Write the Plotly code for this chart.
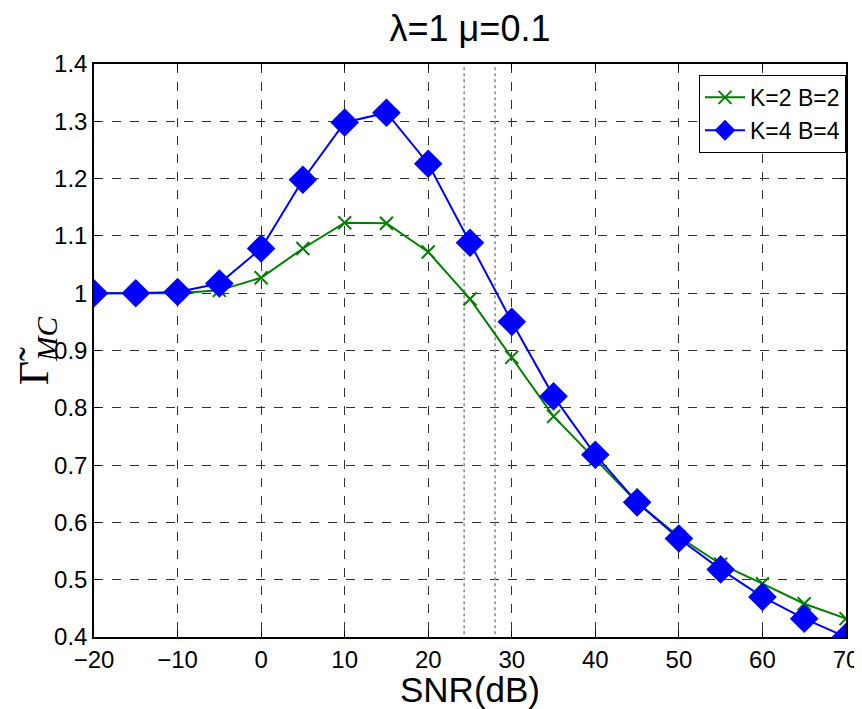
import plotly.graph_objects as go

snr_db = [-20, -15, -10, -5, 0, 5, 10, 15, 20, 25, 30, 35, 40, 45, 50, 55, 60, 65, 70]
gamma_k2_b2 = [1.0, 1.0, 1.0, 1.005, 1.027, 1.078, 1.123, 1.122, 1.072, 0.99, 0.888, 0.785,
               0.71, 0.635, 0.575, 0.527, 0.493, 0.458, 0.432]
gamma_k4_b4 = [1.0, 1.0, 1.002, 1.017, 1.078, 1.198, 1.298, 1.315, 1.226, 1.088, 0.95, 0.82,
               0.718, 0.635, 0.572, 0.518, 0.47, 0.432, 0.4]
marker_lines_x = [24.3, 28.0]
x_ticks = [-20, -10, 0, 10, 20, 30, 40, 50, 60, 70]
x_tick_labels = ["\u221220", "\u221210", "0", "10", "20", "30", "40", "50", "60", "70"]
y_ticks = [0.4, 0.5, 0.6, 0.7, 0.8, 0.9, 1.0, 1.1, 1.2, 1.3, 1.4]
y_tick_labels = ["0.4", "0.5", "0.6", "0.7", "0.8", "0.9", "1", "1.1", "1.2", "1.3", "1.4"]

fig = go.Figure()

for xv in marker_lines_x:
    fig.add_trace(go.Scatter(x=[xv, xv], y=[0.405, 1.395], mode="lines",
                             line=dict(color="#888888", width=1.5, dash="dot"),
                             showlegend=False, hoverinfo="skip"))

fig.add_trace(go.Scatter(x=snr_db, y=gamma_k2_b2, mode="lines+markers", name="K=2 B=2",
                         line=dict(color="#008000", width=2),
                         marker=dict(symbol="x-thin", size=13, color="#008000",
                                     line=dict(color="#008000", width=2))))
fig.add_trace(go.Scatter(x=snr_db, y=gamma_k4_b4, mode="lines+markers", name="K=4 B=4",
                         line=dict(color="#0000ff", width=2),
                         marker=dict(symbol="diamond", size=22, color="#0000ff")))

font_fam = "Liberation Sans, Arial, sans-serif"
fig.update_layout(
    width=854, height=701,
    paper_bgcolor="white", plot_bgcolor="white",
    margin=dict(l=86, r=16, t=56, b=72, autoexpand=False),
    title=dict(text="\u03bb=1 \u03bc=0.1", x=0.5, xref="paper", xanchor="center",
               y=0.971, yanchor="middle",
               font=dict(family=font_fam, size=36, color="black")),
    font=dict(family=font_fam, size=24, color="black"),
    showlegend=True,
    legend=dict(x=1.0, y=0.981, xanchor="right", yanchor="top",
                bgcolor="white", bordercolor="black", borderwidth=1,
                font=dict(size=23, family=font_fam), tracegroupgap=0, itemwidth=40),
)
fig.update_xaxes(range=[-20, 70], tickvals=x_ticks, ticktext=x_tick_labels,
                 tickfont=dict(size=24, family=font_fam),
                 showline=True, linecolor="black", linewidth=1.5, mirror="ticks",
                 ticks="inside", ticklen=6, tickcolor="black",
                 showgrid=True, gridcolor="#333333", griddash="dash", gridwidth=1,
                 zeroline=False,
                 title=dict(text="SNR(dB)", font=dict(size=35, family=font_fam), standoff=3))
fig.update_yaxes(range=[0.4, 1.4], tickvals=y_ticks, ticktext=y_tick_labels,
                 tickfont=dict(size=24, family=font_fam),
                 showline=True, linecolor="black", linewidth=1.5, mirror="ticks",
                 ticks="inside", ticklen=6, tickcolor="black",
                 showgrid=True, gridcolor="#333333", griddash="dash", gridwidth=1,
                 zeroline=False)

fig.add_annotation(text="\u0393\u0303<sub><i>MC</i></sub>", xref="paper", yref="paper",
                   x=-0.076, y=0.5, xanchor="center", yanchor="middle", showarrow=False, textangle=-90,
                   font=dict(family="Liberation Serif, Times New Roman, serif", size=42, color="black"))

fig.write_html("out.html")
